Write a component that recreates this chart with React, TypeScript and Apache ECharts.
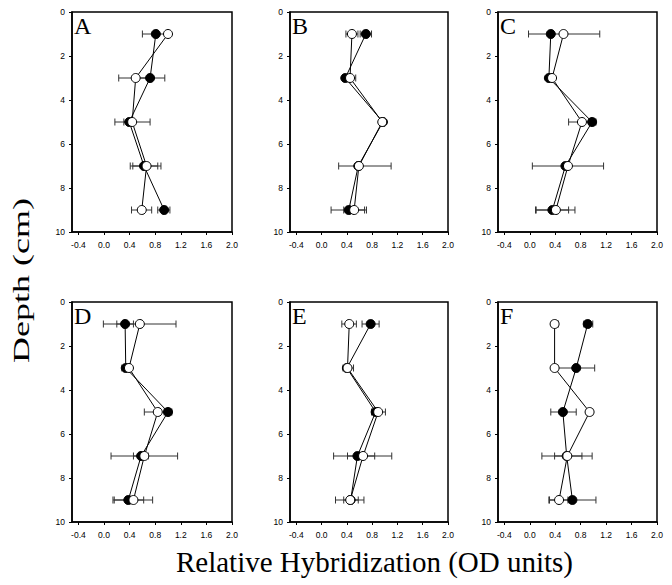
import React, { useEffect, useRef } from "react";
import * as echarts from "echarts";

const depths = [1, 3, 5, 7, 9];
const xTicks = [-0.4, 0.0, 0.4, 0.8, 1.2, 1.6, 2.0];
const yTicks = [0, 2, 4, 6, 8, 10];
const panelLetters = ["A", "B", "C", "D", "E", "F"];

type Err = [number, number] | null;

// Panel A
const filledA = [0.81, 0.72, 0.395, 0.625, 0.94];
const filledErrA: Err[] = [[0.6, 1.02], [0.49, 0.95], [0.31, 0.48], [0.41, 0.84], [0.84, 1.03]];
const openA = [1.0, 0.495, 0.44, 0.665, 0.59];
const openErrA: Err[] = [null, [0.23, 0.76], [0.17, 0.72], [0.45, 0.89], [0.43, 0.745]];
// Panel B
const filledB = [0.7, 0.375, 0.97, 0.58, 0.43];
const filledErrB: Err[] = [[0.61, 0.79], null, null, null, [0.15, 0.71]];
const openB = [0.48, 0.45, 0.96, 0.59, 0.515];
const openErrB: Err[] = [[0.385, 0.575], [0.36, 0.54], null, [0.27, 1.1], [0.35, 0.68]];
// Panel C
const filledC = [0.33, 0.3, 0.98, 0.56, 0.355];
const filledErrC: Err[] = [null, null, [0.93, 1.04], null, [0.1, 0.61]];
const openC = [0.53, 0.35, 0.82, 0.6, 0.41];
const openErrC: Err[] = [[-0.02, 1.1], null, [0.61, 1.03], [0.04, 1.16], [0.09, 0.71]];
// Panel D
const filledD = [0.33, 0.34, 1.0, 0.58, 0.38];
const filledErrD: Err[] = [[0.2, 0.46], [0.28, 0.4], [0.94, 1.06], [0.46, 0.69], [0.14, 0.62]];
const openD = [0.56, 0.39, 0.84, 0.63, 0.46];
const openErrD: Err[] = [[-0.01, 1.125], null, [0.63, 1.05], [0.11, 1.15], [0.16, 0.76]];
// Panel E
const filledE = [0.776, 0.4, 0.855, 0.567, 0.46];
const filledErrE: Err[] = [[0.64, 0.91], null, null, [0.41, 0.84], [0.35, 0.58]];
const openE = [0.4375, 0.41, 0.895, 0.656, 0.453];
const openErrE: Err[] = [[0.32, 0.55], [0.34, 0.505], [0.79, 1.01], [0.19, 1.11], [0.22, 0.67]];
// Panel F
const filledF = [0.91, 0.73, 0.52, 0.58, 0.67];
const filledErrF: Err[] = [[0.85, 0.99], [0.44, 1.02], [0.33, 0.73], [0.39, 0.82], [0.3, 1.04]];
const openF = [0.39, 0.39, 0.94, 0.59, 0.46];
const openErrF: Err[] = [[0.34, 0.45], null, [0.89, 0.99], [0.19, 0.98], [0.31, 0.6]];

const panels = [
  { filled: filledA, filledErr: filledErrA, open: openA, openErr: openErrA },
  { filled: filledB, filledErr: filledErrB, open: openB, openErr: openErrB },
  { filled: filledC, filledErr: filledErrC, open: openC, openErr: openErrC },
  { filled: filledD, filledErr: filledErrD, open: openD, openErr: openErrD },
  { filled: filledE, filledErr: filledErrE, open: openE, openErr: openErrE },
  { filled: filledF, filledErr: filledErrF, open: openF, openErr: openErrF },
];

const xLabel = "Relative Hybridization (OD units)";
const yLabel = "Depth (cm)";

const grids = [
  { left: 72, top: 12, width: 160, height: 220 },
  { left: 290, top: 12, width: 158, height: 220 },
  { left: 498, top: 12, width: 159, height: 220 },
  { left: 72, top: 302, width: 160, height: 220 },
  { left: 290, top: 302, width: 158, height: 220 },
  { left: 498, top: 302, width: 159, height: 220 },
];

const SERIF = "'Liberation Serif', 'Times New Roman', serif";
const SANS = "'Liberation Sans', Arial, sans-serif";

const errRender = (params: any, api: any) => {
  const lo = api.value(0);
  const hi = api.value(1);
  const d = api.value(2);
  const p1 = api.coord([lo, d]);
  const p2 = api.coord([hi, d]);
  const h = 3.5;
  const style = { stroke: "#333", lineWidth: 1 };
  return {
    type: "group",
    children: [
      { type: "line", shape: { x1: p1[0], y1: p1[1], x2: p2[0], y2: p2[1] }, style },
      { type: "line", shape: { x1: p1[0], y1: p1[1] - h, x2: p1[0], y2: p1[1] + h }, style },
      { type: "line", shape: { x1: p2[0], y1: p2[1] - h, x2: p2[0], y2: p2[1] + h }, style },
    ],
  };
};

export default function App() {
  const ref = useRef<HTMLDivElement>(null);
  useEffect(() => {
    document.body.style.margin = "0";
    if (!ref.current) return;
    const chart = echarts.init(ref.current, undefined, { renderer: "svg" });
    const series: any[] = [];
    panels.forEach((p, i) => {
      const errData = (arr: Err[]) =>
        arr
          .map((e, k) => (e ? [e[0], e[1], depths[k]] : null))
          .filter((v) => v !== null);
      series.push({
        type: "custom",
        xAxisIndex: i,
        yAxisIndex: i,
        renderItem: errRender,
        encode: { x: [0, 1], y: 2 },
        data: errData(p.filledErr),
        z: 1,
        silent: true,
      });
      series.push({
        type: "custom",
        xAxisIndex: i,
        yAxisIndex: i,
        renderItem: errRender,
        encode: { x: [0, 1], y: 2 },
        data: errData(p.openErr),
        z: 1,
        silent: true,
      });
      series.push({
        type: "line",
        xAxisIndex: i,
        yAxisIndex: i,
        data: p.filled.map((v, k) => [v, depths[k]]),
        symbol: "circle",
        symbolSize: 9,
        lineStyle: { color: "#000", width: 1 },
        itemStyle: { color: "#000", borderColor: "#000", borderWidth: 1 },
        z: 2,
      });
      series.push({
        type: "line",
        xAxisIndex: i,
        yAxisIndex: i,
        data: p.open.map((v, k) => [v, depths[k]]),
        symbol: "circle",
        symbolSize: 9,
        lineStyle: { color: "#000", width: 1 },
        itemStyle: { color: "#fff", borderColor: "#000", borderWidth: 1 },
        z: 3,
      });
    });

    const graphics: any[] = grids.map((g, i) => ({
      type: "text",
      x: g.left + 2,
      y: g.top + 13.5,
      style: {
        text: panelLetters[i],
        fontSize: 24,
        fontFamily: SERIF,
        fill: "#000",
        align: "left",
        verticalAlign: "middle",
      },
    }));
    graphics.push({
      type: "text",
      x: 374.5,
      y: 562,
      style: {
        text: xLabel,
        fontSize: 29,
        fontFamily: SERIF,
        fill: "#000",
        align: "center",
        verticalAlign: "middle",
      },
    });
    graphics.push({
      type: "text",
      x: 21,
      y: 280.5,
      rotation: Math.PI / 2,
      scaleX: 1.5,
      style: {
        text: yLabel,
        fontSize: 24,
        fontFamily: SERIF,
        fill: "#000",
        align: "center",
        verticalAlign: "middle",
      },
    });

    chart.setOption({
      animation: false,
      backgroundColor: "#fff",
      grid: grids.map((g) => ({
        ...g,
        show: true,
        borderColor: "#000",
        borderWidth: 1.5,
        backgroundColor: "transparent",
        containLabel: false,
      })),
      xAxis: grids.map((_, i) => ({
        type: "value",
        gridIndex: i,
        min: -0.5,
        max: 2.0,
        axisLine: { show: true, onZero: false, lineStyle: { color: "#000", width: 1.5 } },
        axisTick: { show: true, customValues: xTicks, length: 3, lineStyle: { color: "#000", width: 1 } },
        axisLabel: {
          customValues: xTicks,
          formatter: (v: number) => v.toFixed(1),
          fontSize: 8.5,
          color: "#000",
          fontFamily: SANS,
          margin: 8,
        },
        splitLine: { show: false },
      })),
      yAxis: grids.map((_, i) => ({
        type: "value",
        gridIndex: i,
        inverse: true,
        min: 0,
        max: 10,
        interval: 2,
        axisLine: { show: true, onZero: false, lineStyle: { color: "#000", width: 1.5 } },
        axisTick: { show: true, length: 3, lineStyle: { color: "#000", width: 1 } },
        axisLabel: {
          fontSize: 8.5,
          color: "#000",
          fontFamily: SANS,
          margin: 7,
        },
        splitLine: { show: false },
      })),
      graphic: graphics,
      series,
    });
    return () => chart.dispose();
  }, []);
  return <div ref={ref} style={{ width: 672, height: 585 }} />;
}
